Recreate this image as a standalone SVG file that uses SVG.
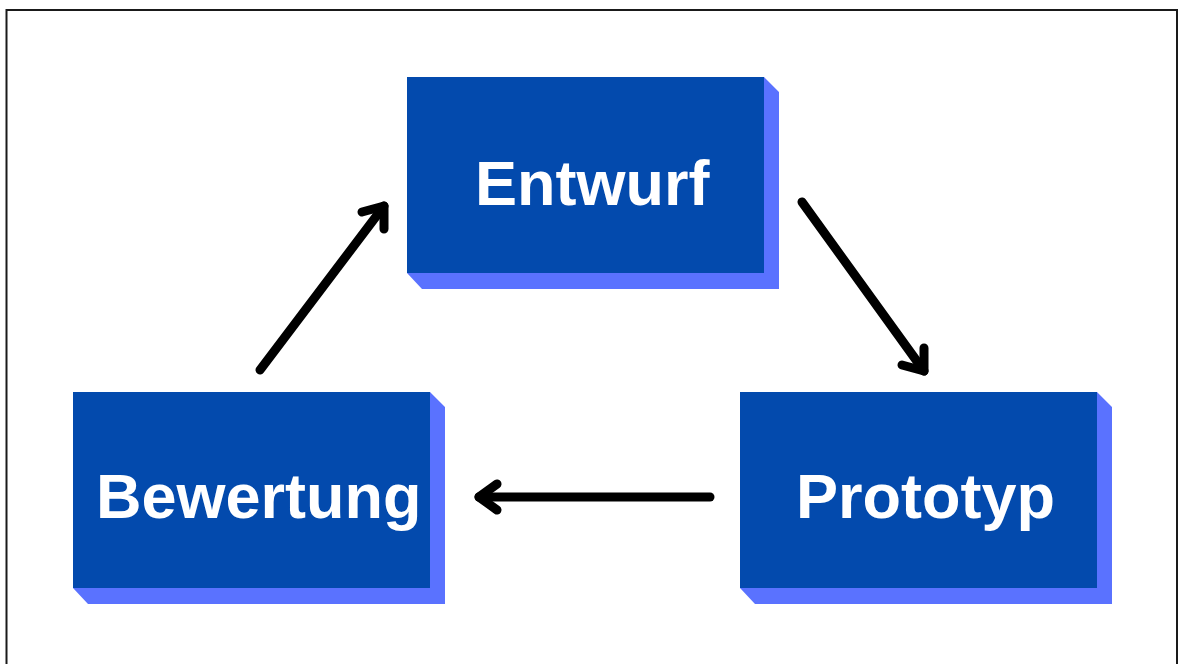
<svg xmlns="http://www.w3.org/2000/svg" width="1179" height="664" viewBox="0 0 1179 664">
  <style>
    .face { fill: #034aad; }
    .side { fill: #5a72ff; }
    .label { fill: #ffffff; font-family: "Liberation Sans", Arial, sans-serif; font-weight: bold; font-size: 63px; }
    .link { fill: none; stroke: #000000; stroke-width: 9; stroke-linecap: round; stroke-linejoin: round; }
  </style>
  <rect width="1179" height="664" fill="#ffffff"/>
  <!-- frame -->
  <rect x="6.5" y="10" width="1170.5" height="700" fill="none" stroke="#1a1a1a" stroke-width="2"/>

  <g id="entwurf">
    <polygon class="side" points="764,77 779,92 779,289 422,289 407,273 764,273"/>
    <rect class="face" x="407" y="77" width="357" height="196"/>
    <text class="label" x="475" y="205">Entwurf</text>
  </g>

  <g id="bewertung">
    <polygon class="side" points="430,392 445,407 445,604 88,604 73,588 430,588"/>
    <rect class="face" x="73" y="392" width="357" height="196"/>
    <text class="label" x="96" y="518">Bewertung</text>
  </g>

  <g id="prototyp">
    <polygon class="side" points="1097,392 1112,407 1112,604 755,604 740,588 1097,588"/>
    <rect class="face" x="740" y="392" width="357" height="196"/>
    <text class="label" x="796" y="518">Prototyp</text>
  </g>

  <g id="connectors">
    <!-- Bewertung -> Entwurf -->
    <line class="link" x1="260" y1="370" x2="384" y2="206"/>
    <polyline class="link" points="362,212 384,206 384,229"/>
    <!-- Entwurf -> Prototyp -->
    <line class="link" x1="802" y1="202" x2="924" y2="371"/>
    <polyline class="link" points="902,365 924,371 924,348"/>
    <!-- Prototyp -> Bewertung -->
    <line class="link" x1="710" y1="497" x2="479" y2="497"/>
    <polyline class="link" points="497,484 479,497 497,510"/>
  </g>
</svg>
